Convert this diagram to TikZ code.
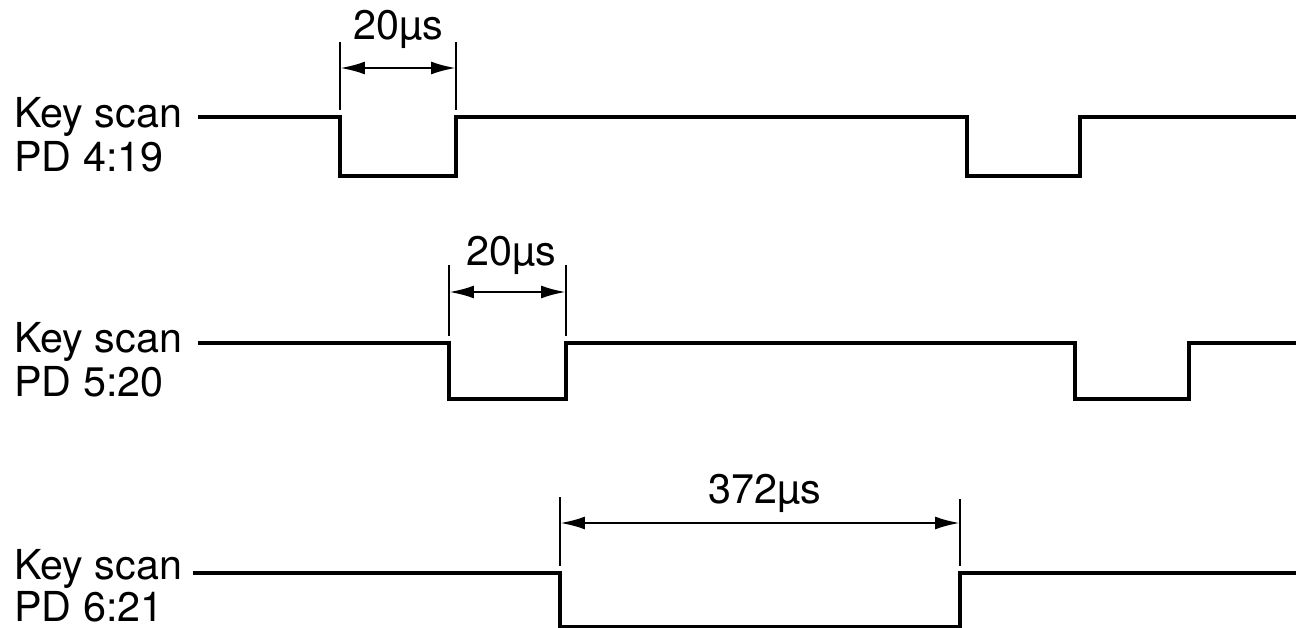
\documentclass[tikz,border=0pt]{standalone}
\usepackage{fontspec}
\setmainfont{TeX Gyre Heros}
\usetikzlibrary{arrows.meta,positioning}
\tikzset{lbl/.style={inner sep=0pt,anchor=base west,font=\fontsize{23.5}{28}\selectfont},
  dimtext/.style={inner sep=0pt,anchor=base,font=\fontsize{23.5}{28}\selectfont},
  wave/.style={line width=2.6pt,line join=miter},
  ext/.style={line width=1.2pt},
  dim/.style={line width=1.5pt,{Latex[length=5mm,width=2.6mm]}-{Latex[length=5mm,width=2.6mm]}}}

\begin{document}
\begin{tikzpicture}[x=0.02cm,y=-0.02cm]
        \useasboundingbox (0,0) rectangle (1296,628);

        % PD 4:19
        \node [lbl] (ks1) at (14,128) {Key scan};
        \node [lbl] (pd1) at (14,172) {PD 4:19};
        \coordinate (s1) at (198,117);
        \coordinate (a1) at (340,117);
        \coordinate (b1) at (456,117);
        \draw [wave] (s1) -- (a1) -- (340,176) -- (456,176) -- (b1)
          -- (967,117) -- (967,176) -- (1080,176) -- (1080,117) -- (1296,117);
        \draw [ext] (340,42) -- (340,110) (456,42) -- (456,110);
        \draw [dim] (340,68) -- (456,68);
        \node [dimtext] (t1) at (398,40) {20µs};

        % PD 5:20
        \node [lbl] (ks2) at (14,353) {Key scan};
        \node [lbl] (pd2) at (14,397) {PD 5:20};
        \coordinate (s2) at (198,343);
        \coordinate (a2) at (449,343);
        \coordinate (b2) at (566,343);
        \draw [wave] (s2) -- (a2) -- (449,399) -- (566,399) -- (b2)
          -- (1075,343) -- (1075,399) -- (1189,399) -- (1189,343) -- (1296,343);
        \draw [ext] (449,265) -- (449,336) (566,265) -- (566,336);
        \draw [dim] (449,292) -- (566,292);
        \node [dimtext] (t2) at (511,266) {20µs};

        % PD 6:21
        \node [lbl] (ks3) at (14,579) {Key scan};
        \node [lbl] (pd3) at (14,621) {PD 6:21};
        \coordinate (s3) at (193,573);
        \coordinate (a3) at (560,573);
        \coordinate (b3) at (960,573);
        \draw [wave] (s3) -- (a3) -- (560,627) -- (960,627) -- (b3) -- (1296,573);
        \draw [ext] (560,497) -- (560,566) (960,499) -- (960,566);
        \draw [dim] (560,523) -- (960,523);
        \node [dimtext] (t3) at (765,503) {372µs};
      \end{tikzpicture}
\end{document}
